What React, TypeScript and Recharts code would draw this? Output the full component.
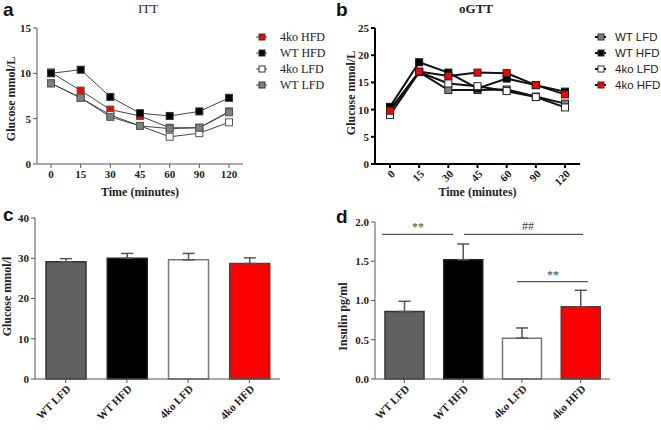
import React from "react";
import { Bar, BarChart, Cell, ErrorBar, Legend, Line, LineChart, XAxis, YAxis } from "recharts";

const serif = '"Liberation Serif", "Times New Roman", serif';
const sans = '"Liberation Sans", Arial, sans-serif';

const timePoints = ["0", "15", "30", "45", "60", "90", "120"];

// ITT glucose (mmol/L)
const ittWtLfd = [8.9, 7.3, 5.2, 4.2, 3.9, 4.0, 5.7];
const ittWtHfd = [10.0, 10.4, 7.4, 5.6, 5.3, 5.8, 7.3];
const itt4koLfd = [8.9, 7.3, 5.4, 4.2, 3.0, 3.4, 4.6];
const itt4koHfd = [10.1, 8.1, 6.0, 5.3, 4.0, 4.0, 5.8];

// oGTT glucose (mmol/L)
const ogttWtLfd = [10.0, 16.9, 13.6, 13.6, 13.7, 12.4, 11.1];
const ogttWtHfd = [10.5, 18.7, 16.8, 13.9, 15.7, 14.5, 13.3];
const ogtt4koLfd = [9.0, 16.9, 14.8, 14.3, 13.4, 12.3, 10.4];
const ogtt4koHfd = [9.8, 17.0, 16.2, 16.8, 16.7, 14.5, 12.8];

const groups = ["WT LFD", "WT HFD", "4ko LFD", "4ko HFD"];
const glucoseMean = [29.1, 30.0, 29.6, 28.7];
const glucoseSem = [0.8, 1.2, 1.6, 1.4];
const insulinMean = [0.86, 1.52, 0.52, 0.92];
const insulinSem = [0.13, 0.2, 0.13, 0.21];

const ittLegendOrder = ["koHfd", "wtHfd", "koLfd", "wtLfd"];
const ogttLegendOrder = ["wtLfd", "wtHfd", "koLfd", "koHfd"];

const groupFill = ["#616161", "#000000", "#ffffff", "#ff0000"];
const groupStroke = ["#333333", "#222222", "#777777", "#444444"];

const ittData = timePoints.map((t, i) => ({
  t,
  wtLfd: ittWtLfd[i],
  wtHfd: ittWtHfd[i],
  koLfd: itt4koLfd[i],
  koHfd: itt4koHfd[i],
}));

const ogttData = timePoints.map((t, i) => ({
  t,
  wtLfd: ogttWtLfd[i],
  wtHfd: ogttWtHfd[i],
  koLfd: ogtt4koLfd[i],
  koHfd: ogtt4koHfd[i],
}));

const glucoseData = groups.map((g, i) => ({ g, v: glucoseMean[i], e: [0, glucoseSem[i]] }));
const insulinData = groups.map((g, i) => ({ g, v: insulinMean[i], e: [0, insulinSem[i]] }));

const markerFill: Record<string, string> = {
  wtLfd: "#808080",
  wtHfd: "#000000",
  koLfd: "#ffffff",
  koHfd: "#ff0000",
};

const tickFont = { fontFamily: serif, fontWeight: "bold", fontSize: 11, fill: "#222" };

function squareDot(fill: string, stroke: string, size: number) {
  return (props: any) => {
    const { cx, cy, index } = props;
    return (
      <rect
        key={index}
        x={cx - size / 2}
        y={cy - size / 2}
        width={size}
        height={size}
        fill={fill}
        stroke={stroke}
        strokeWidth={1}
      />
    );
  };
}

function yTitle(text: string, dx: number, dy = 0) {
  return (props: any) => {
    const vb = props.viewBox;
    const cx = vb.x + dx;
    const cy = vb.y + vb.height / 2 + dy;
    return (
      <text
        x={cx}
        y={cy}
        transform={`rotate(-90, ${cx}, ${cy})`}
        textAnchor="middle"
        dominantBaseline="central"
        fontFamily={serif}
        fontWeight="bold"
        fontSize={12}
        fill="#222"
      >
        {text}
      </text>
    );
  };
}

function RotatedTick(props: any) {
  const { x, y, payload } = props;
  return (
    <g transform={`translate(${x + 3},${y + 2}) rotate(-45)`}>
      <text x={0} y={0} dy="0.35em" textAnchor="end" {...tickFont}>
        {payload.value}
      </text>
    </g>
  );
}

function legendContent(order: string[], font: string, size: number, gap: number, lineColor: string, lineWidth: number) {
  return (props: any) => {
    const items = [...(props.payload || [])].sort(
      (a: any, b: any) => order.indexOf(a.dataKey) - order.indexOf(b.dataKey)
    );
    return (
      <div>
        {items.map((entry: any) => (
          <div key={entry.value} style={{ display: "flex", alignItems: "center", height: 16 }}>
            <svg width={gap} height={10} style={{ flex: "none" }}>
              <line x1={0} x2={11} y1={5} y2={5} stroke={lineColor} strokeWidth={lineWidth} />
              <rect x={3} y={2} width={6} height={6} fill={markerFill[entry.dataKey]} stroke="#333" strokeWidth={1} />
            </svg>
            <span style={{ fontFamily: font, fontSize: size, color: "#222", whiteSpace: "nowrap" }}>{entry.value}</span>
          </div>
        ))}
      </div>
    );
  };
}

const letterStyle: React.CSSProperties = {
  position: "absolute",
  fontFamily: sans,
  fontWeight: "bold",
  fontSize: 19,
  lineHeight: "19px",
  color: "#111",
};

const axisTitleStyle = { fontFamily: serif, fontWeight: "bold", fontSize: 12, fill: "#222" };

export default function App() {
  return (
    <div style={{ position: "absolute", left: 0, top: 0, width: 661, height: 430, background: "#fff", overflow: "hidden" }}>
      {/* a: ITT */}
      <div style={{ position: "absolute", left: 0, top: 0 }}>
        <LineChart width={330} height={215} data={ittData} margin={{ top: 28, right: 87, left: 0, bottom: 11 }}>
          <XAxis
            dataKey="t"
            padding={{ left: 14, right: 14 }}
            height={40}
            tick={tickFont}
            tickSize={4}
            tickMargin={2}
            stroke="#555"
            interval={0}
            label={{ value: "Time (minutes)", position: "insideBottom", offset: 8, style: axisTitleStyle }}
          />
          <YAxis
            width={37}
            domain={[0, 15]}
            ticks={[0, 5, 10, 15]}
            tick={tickFont}
            tickSize={4}
            tickMargin={2}
            stroke="#555"
            label={yTitle("Glucose mmol/L", 11, 3)}
          />
          <Legend
            layout="vertical"
            verticalAlign="middle"
            align="center"
            wrapperStyle={{ left: 256, top: 29, width: 74 }}
            content={legendContent(ittLegendOrder, serif, 12, 24, "#444", 1)}
          />
          <Line name="4ko HFD" dataKey="koHfd" stroke="#444" strokeWidth={1} dot={squareDot(markerFill.koHfd, "#555", 7)} isAnimationActive={false} />
          <Line name="WT HFD" dataKey="wtHfd" stroke="#444" strokeWidth={1} dot={squareDot(markerFill.wtHfd, "#333", 7)} isAnimationActive={false} />
          <Line name="4ko LFD" dataKey="koLfd" stroke="#444" strokeWidth={1} dot={squareDot(markerFill.koLfd, "#555", 7)} isAnimationActive={false} />
          <Line name="WT LFD" dataKey="wtLfd" stroke="#444" strokeWidth={1} dot={squareDot(markerFill.wtLfd, "#555", 7)} isAnimationActive={false} />
        </LineChart>
      </div>
      <div style={{ ...letterStyle, left: 3, top: 0 }}>a</div>
      <div style={{ position: "absolute", left: 118, top: 1, width: 60, textAlign: "center", fontFamily: serif, fontSize: 13, color: "#222" }}>ITT</div>

      {/* b: oGTT */}
      <div style={{ position: "absolute", left: 330, top: 0 }}>
        <LineChart width={331} height={215} data={ogttData} margin={{ top: 28, right: 81, left: 0, bottom: 11 }}>
          <XAxis
            dataKey="t"
            padding={{ left: 15, right: 15 }}
            height={40}
            tick={<RotatedTick />}
            tickSize={4}
            tickMargin={2}
            stroke="#000"
            strokeWidth={2}
            interval={0}
            label={{ value: "Time (minutes)", position: "insideBottom", offset: 8, style: axisTitleStyle }}
          />
          <YAxis
            width={45}
            domain={[0, 25]}
            ticks={[0, 5, 10, 15, 20, 25]}
            tick={tickFont}
            tickSize={4}
            tickMargin={2}
            stroke="#000"
            strokeWidth={2}
            label={yTitle("Glucose mmol/L", 21, -3)}
          />
          <Legend
            layout="vertical"
            verticalAlign="middle"
            align="center"
            wrapperStyle={{ left: 265, top: 29, width: 66 }}
            content={legendContent(ogttLegendOrder, sans, 11.5, 20, "#111", 2)}
          />
          <Line name="WT LFD" dataKey="wtLfd" stroke="#111" strokeWidth={2} dot={squareDot(markerFill.wtLfd, "#222", 7)} isAnimationActive={false} />
          <Line name="WT HFD" dataKey="wtHfd" stroke="#111" strokeWidth={2} dot={squareDot(markerFill.wtHfd, "#111", 7)} isAnimationActive={false} />
          <Line name="4ko LFD" dataKey="koLfd" stroke="#111" strokeWidth={2} dot={squareDot(markerFill.koLfd, "#222", 7)} isAnimationActive={false} />
          <Line name="4ko HFD" dataKey="koHfd" stroke="#111" strokeWidth={2} dot={squareDot(markerFill.koHfd, "#222", 7)} isAnimationActive={false} />
        </LineChart>
      </div>
      <div style={{ ...letterStyle, left: 336, top: 0 }}>b</div>
      <div style={{ position: "absolute", left: 446, top: 1, width: 60, textAlign: "center", fontFamily: serif, fontWeight: "bold", fontSize: 13, color: "#222" }}>oGTT</div>

      {/* c: fasting glucose */}
      <div style={{ position: "absolute", left: 0, top: 210 }}>
        <BarChart width={330} height={220} data={glucoseData} margin={{ top: 8, right: 50, left: 0, bottom: 0 }}>
          <XAxis dataKey="g" height={51} tick={<RotatedTick />} tickSize={4} tickMargin={2} stroke="#555" interval={0} />
          <YAxis
            width={35}
            domain={[0, 40]}
            ticks={[0, 10, 20, 30, 40]}
            tick={tickFont}
            tickSize={4}
            tickMargin={2}
            stroke="#555"
            label={yTitle("Glucose mmol/l", 7, -2)}
          />
          <Bar dataKey="v" barSize={40} strokeWidth={1.5} isAnimationActive={false}>
            {glucoseData.map((d, i) => (
              <Cell key={d.g} fill={groupFill[i]} stroke={groupStroke[i]} />
            ))}
            <ErrorBar dataKey="e" width={6} stroke="#555" strokeWidth={1.5} />
          </Bar>
        </BarChart>
      </div>
      <div style={{ ...letterStyle, left: 3, top: 205 }}>c</div>

      {/* d: insulin */}
      <div style={{ position: "absolute", left: 330, top: 210 }}>
        <BarChart width={331} height={220} data={insulinData} margin={{ top: 12, right: 51, left: 0, bottom: 0 }}>
          <XAxis dataKey="g" height={51} tick={<RotatedTick />} tickSize={4} tickMargin={2} stroke="#555" interval={0} />
          <YAxis
            width={45}
            domain={[0, 2]}
            ticks={[0, 0.5, 1, 1.5, 2]}
            tickFormatter={(v: number) => v.toFixed(1)}
            tick={tickFont}
            tickSize={4}
            tickMargin={2}
            stroke="#555"
            label={yTitle("Insulin pg/ml", 13, 16)}
          />
          <Bar dataKey="v" barSize={39} strokeWidth={1.5} isAnimationActive={false}>
            {insulinData.map((d, i) => (
              <Cell key={d.g} fill={groupFill[i]} stroke={groupStroke[i]} />
            ))}
            <ErrorBar dataKey="e" width={6} stroke="#555" strokeWidth={1.5} />
          </Bar>
        </BarChart>
        <svg width={331} height={220} style={{ position: "absolute", left: 0, top: 0, pointerEvents: "none" }}>
          <g stroke="#555" strokeWidth={1.2}>
            <line x1={52} x2={123} y1={24.3} y2={24.3} />
            <line x1={134} x2={253} y1={24.3} y2={24.3} />
            <line x1={187} x2={258} y1={71.7} y2={71.7} />
          </g>
          <g fontFamily={serif} fontSize={12} fill="#444" textAnchor="middle">
            <text x={88} y={21}>**</text>
            <text x={198} y={20}>##</text>
            <text x={223} y={69}>**</text>
          </g>
        </svg>
      </div>
      <div style={{ ...letterStyle, left: 336, top: 207 }}>d</div>
    </div>
  );
}
